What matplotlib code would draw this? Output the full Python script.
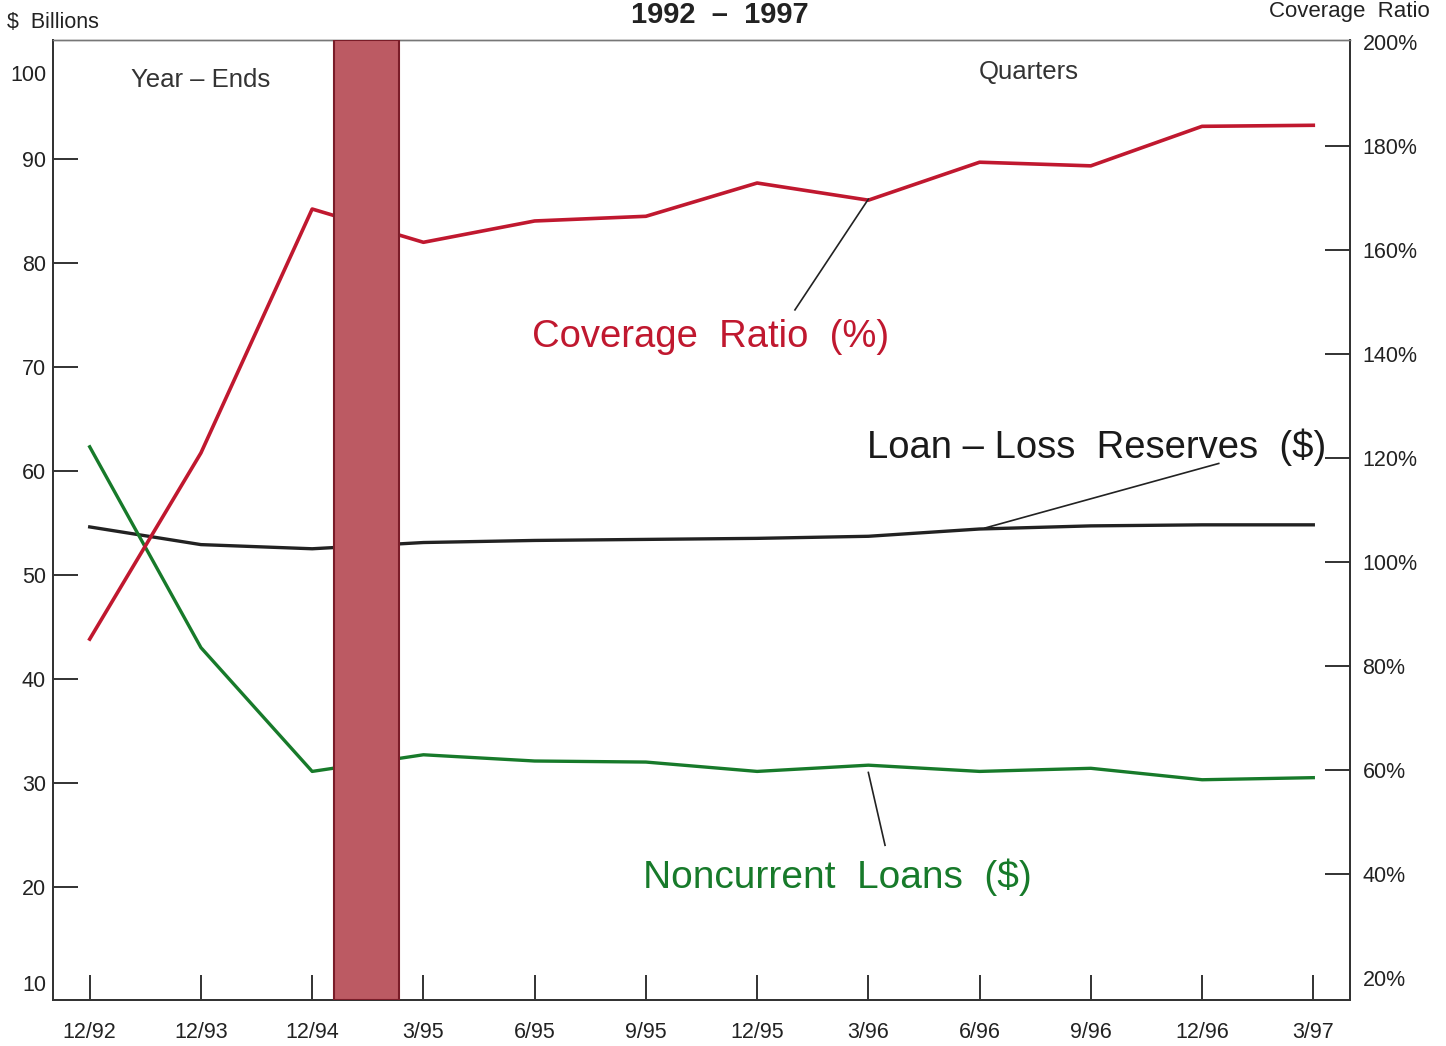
import matplotlib
matplotlib.use("Agg")
import matplotlib.pyplot as plt
from matplotlib.transforms import ScaledTranslation

plt.rcParams['font.family'] = ['Liberation Sans', 'DejaVu Sans']

periods = ["12/92", "12/93", "12/94", "3/95", "6/95", "9/95", "12/95",
           "3/96", "6/96", "9/96", "12/96", "3/97"]
coverage_ratio = [85.2, 121.0, 167.9, 161.5, 165.6, 166.5, 172.9,
                  169.6, 176.9, 176.2, 183.8, 184.0]
loan_loss_reserves = [54.6, 52.9, 52.5, 53.1, 53.3, 53.4, 53.5,
                      53.7, 54.4, 54.7, 54.8, 54.8]
noncurrent_loans = [62.3, 43.0, 31.1, 32.7, 32.1, 32.0, 31.1,
                    31.7, 31.1, 31.4, 30.3, 30.5]
left_ticks = [10, 20, 30, 40, 50, 60, 70, 80, 90, 100]
right_ticks = [20, 40, 60, 80, 100, 120, 140, 160, 180, 200]

x = list(range(len(periods)))

fig = plt.figure(figsize=(14.46, 10.46), dpi=100)
ax = fig.add_axes([53/1446, 46/1046, 1297/1446, 960/1046])
ax2 = ax.twinx()

ax.set_xlim(-0.33, 11.33)
ax.set_ylim(9.13, 101.4)
ax2.set_ylim(15.8, 200.4)

ax.plot(x, loan_loss_reserves, color='#222222', lw=2.4, zorder=2)
ax.plot(x, noncurrent_loans, color='#177a2a', lw=2.4, zorder=2)
ax2.plot(x, coverage_ratio, color='#c0182f', lw=2.6, zorder=2)

# shaded separator between year-ends and quarters
ax2.axvspan(2.2, 2.78, facecolor='#bc5a63', edgecolor='#7a1c28', lw=1.5, zorder=5)

ax.set_xticks(x)
ax.set_xticklabels(periods)
ax.set_yticks(left_ticks)
ax2.set_yticks(right_ticks)
ax2.set_yticklabels([f"{v}%" for v in right_ticks])

for a in (ax, ax2):
    a.tick_params(axis='both', direction='in', length=18, width=1.3,
                  labelsize=15.5, colors='#222222')
ax.tick_params(axis='x', pad=16)
ax.tick_params(axis='y', pad=5)
ax2.tick_params(axis='y', pad=9)

# end ticks carry labels only
for t in (ax.yaxis.get_major_ticks()[0], ax.yaxis.get_major_ticks()[-1],
          ax2.yaxis.get_major_ticks()[0], ax2.yaxis.get_major_ticks()[-1]):
    t.tick1line.set_visible(False)
    t.tick2line.set_visible(False)
lbl10 = ax.yaxis.get_major_ticks()[0].label1
lbl10.set_transform(lbl10.get_transform() + ScaledTranslation(0, 8/100, fig.dpi_scale_trans))
lbl100 = ax.yaxis.get_major_ticks()[-1].label1
lbl100.set_transform(lbl100.get_transform() + ScaledTranslation(0, -18/100, fig.dpi_scale_trans))

for a in (ax, ax2):
    for s in a.spines.values():
        s.set_color('#333333')
        s.set_linewidth(1.3)
    a.spines['top'].set_color('#777777')
    a.spines['top'].set_linewidth(1.0)

# leader lines
ax2.plot([6.34, 7.0], [148.5, 169.8], color='#222222', lw=1.2, zorder=3)
ax.plot([8.05, 10.15], [54.5, 60.7], color='#222222', lw=1.2, zorder=3)
ax.plot([7.0, 7.15], [31.0, 24.0], color='#222222', lw=1.2, zorder=3)

# in-chart text
ax.text(1.0, 97.6, "Year \u2013 Ends", fontsize=18.5, color='#333333', ha='center', va='center')
ax.text(8.44, 98.3, "Quarters", fontsize=18.5, color='#333333', ha='center', va='center')
ax2.text(5.58, 143.2, "Coverage  Ratio  (%)", fontsize=27.5, color='#c0182f', ha='center', va='center')
ax.text(9.05, 62.3, "Loan \u2013 Loss  Reserves  ($)", fontsize=27.5, color='#1a1a1a', ha='center', va='center')
ax.text(6.72, 20.9, "Noncurrent  Loans  ($)", fontsize=28, color='#177a2a', ha='center', va='center')

# outer text
fig.text(7/1446, 1 - 22/1046, "$  Billions", fontsize=15.5, color='#222222', ha='left', va='center')
fig.text(720/1446, 1 - 15/1046, "1992  \u2013  1997", fontsize=21, fontweight='bold', color='#222222', ha='center', va='center')
fig.text(1430/1446, 1 - 12/1046, "Coverage  Ratio", fontsize=16, color='#222222', ha='right', va='center')

fig.savefig("out.png", dpi=100)
